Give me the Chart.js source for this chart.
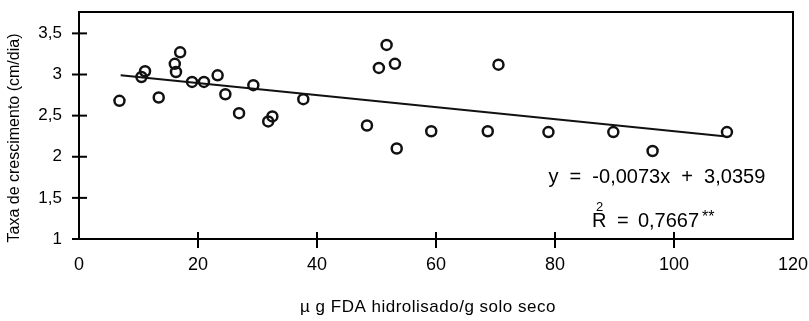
<!DOCTYPE html>
<html>
<head>
<meta charset="utf-8">
<script src="https://cdn.jsdelivr.net/npm/chart.js@4.4.1/dist/chart.umd.min.js"></script>
<style>
  html, body { margin: 0; padding: 0; background: #fff; }
  #wrap { width: 809px; height: 321px; }
</style>
</head>
<body>
<div id="wrap"><canvas id="myChart" width="809" height="321"></canvas></div>
<script>
// FDA hidrolisado (x) vs taxa de crescimento (y)
var fdaX = [6.8, 10.5, 11.1, 13.4, 16.1, 16.3, 17.0, 19.0, 21.0, 23.3, 24.6, 26.9, 29.3, 31.8,
            32.5, 37.7, 48.4, 50.4, 51.7, 53.1, 53.4, 59.2, 68.7, 70.5, 78.9, 89.8, 96.4, 108.9];
var taxaY = [2.68, 2.97, 3.04, 2.72, 3.13, 3.03, 3.27, 2.91, 2.91, 2.99, 2.76, 2.53, 2.87, 2.43,
             2.49, 2.70, 2.38, 3.08, 3.36, 3.13, 2.10, 2.31, 2.31, 3.12, 2.30, 2.30, 2.07, 2.30];

// regression line at its two ends
var trendX = [7, 108.4];
var trendY = [2.99, 2.25];

var xTicks = [0, 20, 40, 60, 80, 100, 120];
var yTicks = [1, 1.5, 2, 2.5, 3, 3.5];

var eqText = 'y  =  -0,0073x  +  3,0359';
var r2Value = '0,7667';

var pts = fdaX.map(function (x, i) { return { x: x, y: taxaY[i] }; });
var trend = trendX.map(function (x, i) { return { x: x, y: trendY[i] }; });

var FONT = '"Liberation Sans", Arial, sans-serif';

function noPad(s) {
    s.paddingLeft = 0; s.paddingRight = 0; s.paddingTop = 0; s.paddingBottom = 0;
}

var frame = {
    id: 'frame',
    afterDraw: function (chart) {
        var c = chart.ctx, a = chart.chartArea;
        var xs = chart.scales.x, ys = chart.scales.y;
        c.save();
        c.strokeStyle = '#000';
        c.lineWidth = 2;
        c.strokeRect(a.left, a.top, a.right - a.left, a.bottom - a.top);
        // tick marks crossing the axes
        yTicks.forEach(function (v) {
            var p = ys.getPixelForValue(v);
            c.beginPath(); c.moveTo(a.left - 7, p); c.lineTo(a.left + 8, p); c.stroke();
        });
        xTicks.slice(1, -1).forEach(function (v) {
            var p = xs.getPixelForValue(v);
            c.beginPath(); c.moveTo(p, a.bottom - 7); c.lineTo(p, a.bottom + 9); c.stroke();
        });
        c.fillStyle = '#000';
        // axis titles
        c.textAlign = 'center';
        c.textBaseline = 'middle';
        c.font = '17px ' + FONT;
        c.letterSpacing = '0.5px';
        c.fillText('\u00b5 g FDA hidrolisado/g solo seco', 428, 307);
        c.letterSpacing = '0px';
        c.save();
        c.translate(15, 138);
        c.rotate(-Math.PI / 2);
        c.font = '16px ' + FONT;
        c.fillText('Taxa de crescimento (cm/dia)', 0, 0);
        c.restore();
        // equation
        c.textAlign = 'left';
        c.textBaseline = 'alphabetic';
        c.font = '20px ' + FONT;
        c.fillText(eqText, xs.getPixelForValue(78.9), ys.getPixelForValue(1.68));
        var rx = xs.getPixelForValue(86.2), ry = ys.getPixelForValue(1.15);
        c.fillText('R', rx, ry);
        c.fillText('=', rx + 25, ry);
        c.fillText(r2Value, rx + 46, ry);
        var w = c.measureText(r2Value).width;
        c.font = '13px ' + FONT;
        c.fillText('2', rx + 4, ry - 16);
        c.font = '16px ' + FONT;
        c.fillText('**', rx + 49 + w, ry - 5);
        c.restore();
    }
};

var ctx = document.getElementById('myChart').getContext('2d');
var myChart = new Chart(ctx, {
    type: 'scatter',
    data: {
        datasets: [{
            label: 'Taxa',
            data: pts,
            pointRadius: 5,
            pointBorderWidth: 2.5,
            pointBorderColor: '#111',
            pointBackgroundColor: 'rgba(255,255,255,0)'
        }, {
            label: 'Regressão',
            type: 'line',
            data: trend,
            showLine: true,
            borderColor: '#111',
            borderWidth: 2,
            pointRadius: 0
        }]
    },
    options: {
        responsive: false,
        animation: false,
        layout: { padding: { top: 12, right: 16, left: 0, bottom: 0 } },
        plugins: { legend: { display: false }, tooltip: { enabled: false } },
        scales: {
            x: {
                type: 'linear',
                min: 0, max: 120,
                afterFit: function (s) { s.height = 82; noPad(s); },
                afterBuildTicks: function (s) { s.ticks = xTicks.map(function (v) { return { value: v }; }); },
                grid: { display: false },
                border: { display: false },
                ticks: {
                    color: '#000',
                    padding: 7,
                    maxRotation: 0,
                    font: { family: FONT, size: 18 }
                }
            },
            y: {
                type: 'linear',
                min: 1, max: 3.76,
                afterFit: function (s) { s.width = 79; noPad(s); },
                afterBuildTicks: function (s) { s.ticks = yTicks.map(function (v) { return { value: v }; }); },
                grid: { display: false },
                border: { display: false },
                ticks: {
                    color: '#000',
                    padding: 9,
                    font: { family: FONT, size: 17 },
                    callback: function (v) { return String(v).replace('.', ','); }
                }
            }
        }
    },
    plugins: [frame]
});
</script>
</body>
</html>
